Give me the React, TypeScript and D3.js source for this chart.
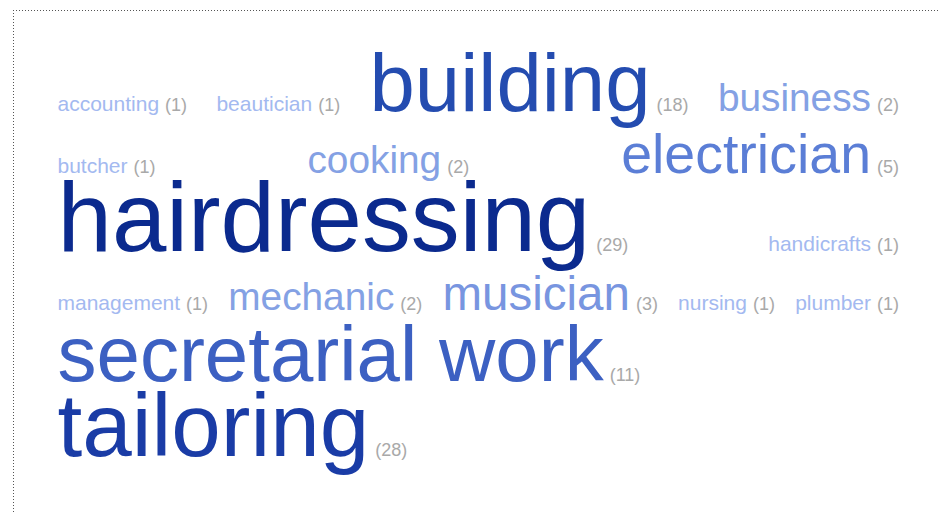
import React, { useMemo } from "react";
import * as d3 from "d3";

// ---- data ----
const words: string[] = [
  "accounting", "beautician", "building", "business", "butcher", "cooking",
  "electrician", "hairdressing", "handicrafts", "management", "mechanic",
  "musician", "nursing", "plumber", "secretarial work", "tailoring",
];
const counts: number[] = [1, 1, 18, 2, 1, 2, 5, 29, 1, 1, 2, 3, 1, 1, 11, 28];

// scale stops (count -> font size / colour)
const countStops: number[] = [1, 2, 3, 5, 11, 18, 28, 29];
const sizeStops: number[] = [21, 38.8, 47.5, 55.5, 78, 81.5, 89, 97.8];
const colorStops: string[] = [
  "#a3b9f0", "#84a1e4", "#7895e0", "#5b7ed6", "#3c60c2", "#244cb0", "#1a3ca6", "#0b2a8e",
];

const W = 938;
const H = 512;
const FONT = '"Liberation Sans", Arial, Helvetica, sans-serif';
const COUNT_SIZE = 18;
const COUNT_COLOR = "#a9a9a9";
const LEFT = 57.5;
const RIGHT = 899;
const TOP = 39;
const MIN_GAP = 10;
const WORD_COUNT_GAP = 6;
const LEAD = 41;
const PITCH = 0.38;

let ctx: CanvasRenderingContext2D | null = null;
function measure(text: string, size: number): number {
  if (!ctx) ctx = document.createElement("canvas").getContext("2d");
  if (!ctx) return text.length * size * 0.5;
  ctx.font = `${size}px ${FONT}`;
  return ctx.measureText(text).width;
}

export default function App() {
  const size = d3.scaleLinear<number>().domain(countStops).range(sizeStops).clamp(true);
  const color = d3
    .scaleLinear<string>()
    .domain(countStops)
    .range(colorStops)
    .interpolate(d3.interpolateRgb)
    .clamp(true);

  const layout = useMemo(() => {
    const items = words.map((w, i) => {
      const fs = size(counts[i]);
      const ww = measure(w, fs);
      const label = `(${counts[i]})`;
      const cw = measure(label, COUNT_SIZE);
      return { word: w, count: counts[i], label, fs, ww, cw, width: ww + WORD_COUNT_GAP + cw };
    });
    const avail = RIGHT - LEFT;
    const lines: (typeof items)[] = [];
    let cur: typeof items = [];
    let curW = 0;
    items.forEach((it) => {
      const add = cur.length ? MIN_GAP + it.width : it.width;
      if (cur.length && curW + add > avail) {
        lines.push(cur);
        cur = [it];
        curW = it.width;
      } else {
        cur.push(it);
        curW += add;
      }
    });
    if (cur.length) lines.push(cur);

    const placed: any[] = [];
    let baseline = TOP;
    lines.forEach((line, li) => {
      const maxFs = d3.max(line, (d) => Math.max(d.fs, COUNT_SIZE)) as number;
      baseline = baseline + LEAD + PITCH * maxFs;
      const total = d3.sum(line, (d) => d.width);
      const isLast = li === lines.length - 1;
      const gap = !isLast && line.length > 1 ? (avail - total) / (line.length - 1) : MIN_GAP;
      let x = LEFT;
      line.forEach((it) => {
        placed.push({ ...it, x, y: baseline });
        x += it.width + gap;
      });
    });
    return placed;
  }, []);

  return (
    <svg
      width={W}
      height={H}
      style={{ position: "absolute", left: 0, top: 0, background: "#fff" }}
      fontFamily={FONT}
    >
      <rect x={0} y={0} width={W} height={H} fill="#fff" />
      <line x1={13} y1={10.5} x2={W} y2={10.5} stroke="#555" strokeWidth={1} strokeDasharray="1 2" />
      <line x1={13.5} y1={10} x2={13.5} y2={H} stroke="#555" strokeWidth={1} strokeDasharray="1 2" />
      {layout.map((d, i) => (
        <g key={i}>
          <text x={d.x} y={d.y} fontSize={d.fs} fill={color(d.count)}>
            {d.word}
          </text>
          <text x={d.x + d.ww + WORD_COUNT_GAP} y={d.y} fontSize={COUNT_SIZE} fill={COUNT_COLOR}>
            {d.label}
          </text>
        </g>
      ))}
    </svg>
  );
}
